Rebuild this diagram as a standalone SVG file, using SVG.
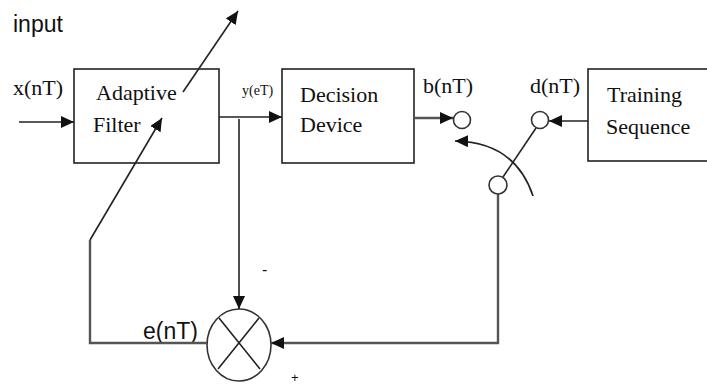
<svg xmlns="http://www.w3.org/2000/svg" width="707" height="385" viewBox="0 0 707 385">
<style>
.box{fill:#fff;stroke:#222;stroke-width:1.6}
.ln{fill:none;stroke:#222;stroke-width:1.6}
.lg{fill:none;stroke:#555;stroke-width:2.4}
.term{fill:#fff;stroke:#333;stroke-width:1.6}
.serif{font-family:"Liberation Serif","Times New Roman",serif;fill:#111}
.sans{font-family:"Liberation Sans",Arial,sans-serif;fill:#111}
</style>
<defs>
<marker id="ah" markerUnits="userSpaceOnUse" markerWidth="14" markerHeight="12" refX="13" refY="6" orient="auto">
<path d="M0,0 L13,6 L0,12 Z" fill="#111"/>
</marker>
</defs>
<rect width="707" height="385" fill="#fff"/>
<text class="sans" x="13" y="32" font-size="23">input</text>
<text class="serif" x="13" y="95" font-size="22">x(nT)</text>
<text class="serif" x="242" y="95" font-size="14">y(eT)</text>
<text class="serif" x="423" y="93" font-size="22">b(nT)</text>
<text class="serif" x="530" y="93" font-size="22">d(nT)</text>
<text class="sans" x="143" y="339" font-size="23">e(nT)</text>
<text class="sans" x="262" y="275" font-size="16">-</text>
<text class="sans" x="291" y="382" font-size="13">+</text>
<g id="adaptive-filter">
<rect class="box" x="74" y="69" width="145" height="94"/>
<text class="serif" x="96" y="100" font-size="22">Adaptive</text>
<text class="serif" x="93" y="132" font-size="22">Filter</text>
</g>
<g id="decision-device">
<rect class="box" x="282" y="69" width="132" height="94"/>
<text class="serif" x="300" y="102" font-size="22">Decision</text>
<text class="serif" x="300" y="132" font-size="22">Device</text>
</g>
<g id="training-sequence">
<rect class="box" x="588" y="69" width="125" height="92"/>
<text class="serif" x="607" y="102" font-size="22">Training</text>
<text class="serif" x="606" y="134" font-size="22">Sequence</text>
</g>
<g id="multiplier">
<ellipse class="term" cx="239" cy="345" rx="32" ry="36"/>
<path class="ln" d="M219,318 L260,369 M259,318 L218,369"/>
</g>
<g id="connectors">
<path class="ln" d="M19,122 L74,122" marker-end="url(#ah)"/>
<path class="ln" d="M219,117 L282,117" marker-end="url(#ah)"/>
<path class="ln" d="M239,119 L239,309" marker-end="url(#ah)"/>
<path class="lg" d="M414,118 L453,118" marker-end="url(#ah)"/>
<path class="ln" d="M588,121 L549,121" marker-end="url(#ah)"/>
<path class="ln" d="M503,177 L536,128"/>
<path class="ln" d="M533,196 Q515,142 455,141" marker-end="url(#ah)"/>
<path class="lg" d="M498,194 L498,343 L271,343" marker-end="url(#ah)"/>
<path class="lg" d="M207,343 L90,343 L90,240"/>
<path class="ln" d="M90,240 L162,118" marker-end="url(#ah)"/>
<path class="ln" d="M183,92 L238,11" marker-end="url(#ah)"/>
</g>
<g id="switch-terminals">
<circle class="term" cx="462" cy="120" r="8.5"/>
<circle class="term" cx="540" cy="120" r="8.5"/>
<circle class="term" cx="498" cy="185" r="9"/>
</g>
</svg>
